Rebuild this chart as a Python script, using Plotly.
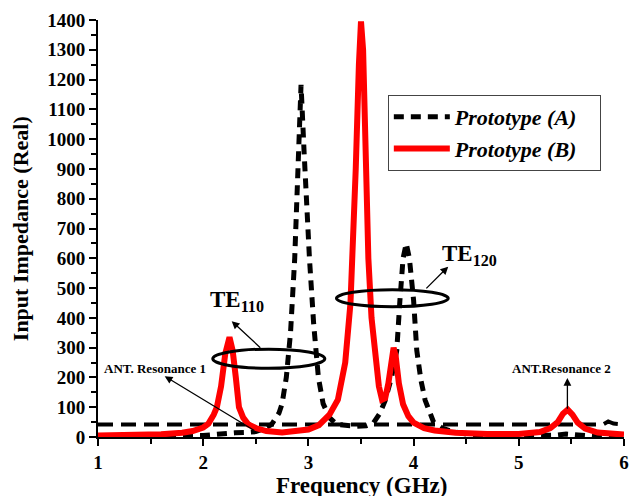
import plotly.graph_objects as go

# ---------------- data ----------------
freq_b = [1.0, 1.3, 1.6, 1.8, 1.9, 2.0, 2.05, 2.1, 2.13, 2.17, 2.21, 2.25, 2.28, 2.31, 2.34,
          2.38, 2.43, 2.5, 2.6, 2.75, 2.9, 3.0, 3.1, 3.2, 3.28, 3.35, 3.4, 3.42, 3.45, 3.48,
          3.5, 3.52, 3.545, 3.57, 3.6, 3.64, 3.67, 3.7, 3.73, 3.76, 3.79, 3.81, 3.83, 3.86,
          3.9, 3.95, 4.0, 4.1, 4.2, 4.4, 4.7, 5.0, 5.2, 5.3, 5.37, 5.42, 5.465, 5.51, 5.56,
          5.63, 5.75, 6.0]
imp_b = [5, 6, 9, 14, 20, 32, 45, 75, 100, 170, 280, 335, 290, 200, 100,
         65, 42, 30, 20, 15, 18, 25, 40, 75, 125, 250, 450, 600, 900, 1250,
         1395, 1300, 900, 600, 400, 250, 170, 125, 130, 180, 270, 300, 270, 180,
         110, 70, 48, 30, 22, 14, 10, 10, 17, 30, 50, 78, 92, 75, 48,
         28, 15, 8]

freq_a = [1.0, 1.5, 1.9, 2.0, 2.1, 2.2, 2.3, 2.4, 2.5, 2.58, 2.65, 2.72, 2.75, 2.79, 2.83,
          2.87, 2.9, 2.93, 2.96, 2.99, 3.01, 3.05, 3.095, 3.14, 3.2, 3.27, 3.35, 3.45, 3.55,
          3.62, 3.68, 3.73, 3.79, 3.84, 3.87, 3.9, 3.93, 3.96, 4.0, 4.03, 4.07, 4.11, 4.19,
          4.27, 4.35, 4.5, 4.8, 5.2, 5.35, 5.45, 5.55, 5.7, 6.0]
imp_a = [1, 2, 3, 5, 8, 12, 14, 15, 18, 28, 42, 80, 112, 200, 350,
         600, 900, 1182, 950, 700, 600, 380, 200, 112, 65, 42, 38, 36, 38,
         48, 80, 123, 200, 291, 459, 600, 650, 600, 459, 291, 190, 123, 50,
         30, 20, 10, 4, 3, 6, 10, 6, 3, 2]

freq_a_flat = [1.0, 2.0, 3.0, 4.0, 5.0, 5.8, 5.85, 5.9, 6.0]
imp_a_flat = [42, 42, 42, 42, 42, 42, 52, 45, 42]

x_ticks = [1, 2, 3, 4, 5, 6]
y_ticks = list(range(0, 1401, 100))

FONT = "Liberation Serif"
PAD = "&nbsp;&nbsp;&nbsp;"

fig = go.Figure()
fig.add_trace(go.Scatter(x=freq_a_flat, y=imp_a_flat, mode="lines", showlegend=False,
                         legendgroup="a",
                         line=dict(color="black", width=4, dash="15px,8px")))
fig.add_trace(go.Scatter(x=freq_a, y=imp_a, mode="lines",
                         name="<b><i>Prototype (A)</i></b>" + PAD,
                         legendgroup="a",
                         line=dict(color="black", width=5, dash="10px,7px")))
fig.add_trace(go.Scatter(x=freq_b, y=imp_b, mode="lines",
                         name="<b><i>Prototype (B)</i></b>" + PAD,
                         line=dict(color="#ff0000", width=6)))

# ellipses
fig.add_shape(type="circle", xref="x", yref="y", x0=2.091, x1=3.156, y0=231, y1=295,
              line=dict(color="black", width=3))
fig.add_shape(type="circle", xref="x", yref="y", x0=3.267, x1=4.329, y0=437, y1=494,
              line=dict(color="black", width=3))

arrow = dict(showarrow=True, arrowhead=2, arrowsize=1.2, arrowwidth=1.3, arrowcolor="black",
             axref="x", ayref="y", text="")
fig.add_annotation(x=2.271, y=389, ax=2.557, ay=295, **arrow)
fig.add_annotation(x=4.329, y=572, ax=4.107, ay=494, **arrow)
fig.add_annotation(x=1.634, y=204, ax=2.50, ay=19, **arrow)
fig.add_annotation(x=5.462, y=198, ax=5.462, ay=90, **arrow)

fig.add_annotation(x=2.32, y=455, text="<b>TE<sub>110</sub></b>", showarrow=False,
                   font=dict(family=FONT, size=23, color="black"))
fig.add_annotation(x=4.535, y=610, text="<b>TE<sub>120</sub></b>", showarrow=False,
                   font=dict(family=FONT, size=23, color="black"))
fig.add_annotation(x=1.54, y=231, text="<b>ANT. Resonance 1</b>", showarrow=False,
                   font=dict(family=FONT, size=13, color="black"))
fig.add_annotation(x=5.405, y=231, text="<b>ANT.Resonance 2</b>", showarrow=False,
                   font=dict(family=FONT, size=13, color="black"))

# axis titles
fig.add_annotation(xref="paper", yref="paper", x=0.5, y=-0.117, xanchor="center",
                   yanchor="middle", showarrow=False, text="<b>Frequency (GHz)</b>",
                   font=dict(family=FONT, size=23, color="black"))
fig.add_annotation(xref="paper", yref="paper", x=-0.147, y=0.5, xanchor="center",
                   yanchor="middle", showarrow=False, textangle=-90,
                   text="<b>Input Impedance (Real)</b>",
                   font=dict(family=FONT, size=22, color="black"))

axis_common = dict(showline=True, linecolor="black", linewidth=2, showgrid=False,
                   zeroline=False, ticks="outside", ticklen=7, tickwidth=2, tickcolor="black",
                   automargin=False,
                   tickfont=dict(family=FONT, size=19, color="black"))

fig.update_xaxes(range=[1, 6], tickvals=x_ticks, ticktext=[f"<b>{v}</b>" for v in x_ticks],
                 minor=dict(dtick=0.5, ticklen=5, tickwidth=2, tickcolor="black", ticks="outside"),
                 ticklabelstandoff=0,
                 **axis_common)
fig.update_yaxes(range=[0, 1400], tickvals=y_ticks, ticktext=[f"<b>{v}</b>" for v in y_ticks],
                 minor=dict(dtick=50, ticklen=5, tickwidth=2, tickcolor="black", ticks="outside"),
                 ticklabelstandoff=0,
                 **axis_common)

fig.update_layout(
    width=629, height=496,
    margin=dict(l=98, r=5, t=20, b=59),
    plot_bgcolor="white", paper_bgcolor="white",
    legend=dict(x=0.551, y=0.82, xanchor="left", yanchor="top",
                bordercolor="#444", borderwidth=1, bgcolor="white",
                font=dict(family=FONT, size=22, color="black"),
                itemwidth=56, tracegroupgap=0),
)

fig.write_html("out.html", config={"displayModeBar": False},
               post_script="document.body.style.margin='0';")
